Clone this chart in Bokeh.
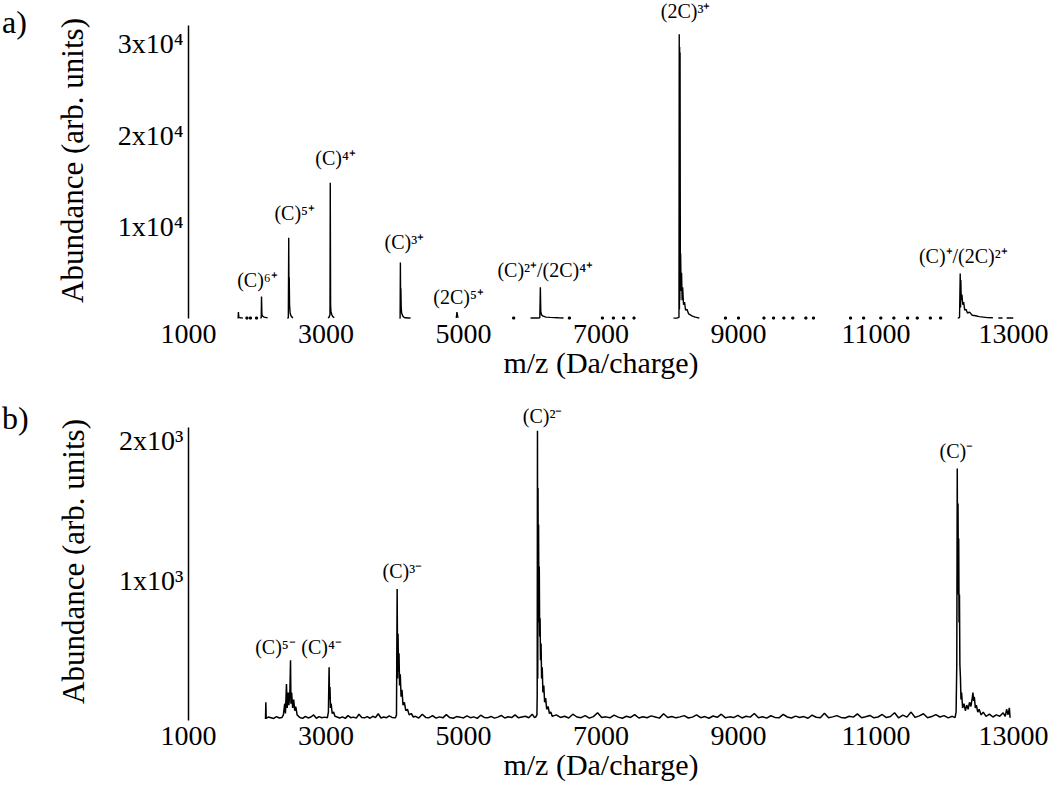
from bokeh.plotting import figure
from bokeh.layouts import column, row
from bokeh.models import Range1d, FixedTicker, Div
from bokeh.core.properties import value
from bokeh.embed import file_html
from bokeh.resources import INLINE

nan = float("nan")
FONT = "Liberation Serif"

# ---------------- data: panel a) ----------------
x_ticks = [1000, 3000, 5000, 7000, 9000, 11000, 13000]

a_mz = [
    1722, 1726, 1732, 1760, 1790, nan,
    2045, 2058, 2062, 2068, 2080, 2100, 2130, 2150, nan,
    2440, 2452, 2458, 2462, 2465, 2470, 2478, 2490, 2505, 2520, nan,
    3030, 3045, 3058, 3062, 3067, 3072, 3085, 3100, 3120, nan,
    4070, 4078, 4082, 4086, 4089, 4094, 4100, 4115, 4130, 4150, 4200, 4230, nan,
    4895, 4905, 4915, 4925, nan,
    5975, 6000, 6040, 6080, 6110, 6118, 6124, 6135, 6160, 6200, 6260, 6320, 6380, 6455, nan,
    8055, 8110, 8134, 8138, 8141, 8144, 8147, 8150, 8154, 8158, 8166, 8172, 8180, 8188,
    8200, 8215, 8230, 8250, 8275, 8300, 8330, 8370, 8400, 8430, nan,
    12190, 12215, 12225, 12230, 12234, 12240, 12250, 12262, 12275, 12290, 12310, 12330,
    12360, 12400, 12450, 12500, 12560, 12620, 12700, nan,
    12780, 12840, nan, 12900, 13000,
]
a_counts = [
    0, 700, 120, 80, 60, nan,
    60, 80, 2400, 400, 250, 150, 100, 80, nan,
    0, 100, 8800, 1200, 4500, 1500, 600, 300, 150, 60, nan,
    50, 150, 400, 14800, 1400, 800, 400, 200, 80, nan,
    0, 50, 6100, 1000, 3300, 1200, 600, 300, 150, 80, 60, 50, nan,
    50, 700, 200, 100, nan,
    60, 50, 60, 60, 80, 3400, 800, 400, 250, 150, 120, 100, 80, 60, nan,
    40, 60, 120, 31000, 1000, 29600, 2000, 29000, 6000, 7100, 3000, 5000, 2000, 3400,
    1500, 1800, 900, 1000, 500, 400, 250, 150, 100, 50, nan,
    60, 100, 4900, 1200, 4200, 2000, 2600, 1500, 1800, 900, 1000, 600,
    700, 350, 300, 200, 150, 100, 80, nan,
    60, 60, nan, 60, 60,
]
a_dot_mz = [1850, 1900, 1990, 5730, 6540, 7020, 7180, 7330, 7480, 8810, 9000, 9370,
            9510, 9660, 9790, 9980, 10090, 10630, 10820, 11070, 11260, 11460, 11600,
            11790, 11940]
a_dot_counts = [50] * len(a_dot_mz)

a_label_text = ["(C)⁶⁺", "(C)⁵⁺", "(C)⁴⁺", "(C)³⁺", "(2C)⁵⁺", "(C)²⁺/(2C)⁴⁺",
                "(2C)³⁺", "(C)⁺/(2C)²⁺"]
a_label_mz = [2004, 2545, 3140, 4140, 4930, 6190, 8230, 12270]
a_label_counts = [3000, 10300, 16300, 7100, 1100, 4100, 32300, 5600]

a_yticks = [10000, 20000, 30000]
a_ytick_text = ["1x10⁴", "2x10⁴", "3x10⁴"]

# ---------------- data: panel b) ----------------
b_mz = [
    2120, 2125, 2130, 2160, 2200, 2240, 2280, 2320, 2360,
    2380, 2400, 2410, 2425, 2435, 2450, 2460, 2475, 2484, 2490, 2500, 2515, 2530, 2545,
    2560, 2580, 2600,
    2620, 2660, 2700, 2740, 2780, 2820, 2860, 2900, 2940, 2980,
    3020, 3035, 3045, 3052, 3058, 3065, 3075, 3090, 3110, 3130, 3160,
    3200, 3240, 3280, 3320, 3360, 3400, 3440, 3480, 3520, 3560,
    3600, 3640, 3680, 3720, 3760, 3800, 3840, 3880, 3920, 3960,
    4010, 4025, 4035, 4042, 4048, 4055, 4062, 4070, 4080, 4092, 4105, 4120, 4140, 4160,
    4185, 4210, 4240, 4270,
    4300, 4350, 4400, 4450, 4500, 4550, 4600, 4650, 4700, 4750,
    4800, 4850, 4900, 4950, 5000, 5050, 5100, 5150, 5200, 5250,
    5300, 5350, 5400, 5450, 5500, 5550, 5600, 5650, 5700, 5750,
    5800, 5850, 5900, 5950, 6000, 6030,
    6050, 6068, 6072, 6076, 6080, 6084, 6088, 6092, 6097, 6102, 6108, 6114, 6120, 6128,
    6136, 6145, 6155, 6168, 6180, 6195, 6210, 6230, 6250, 6270, 6290, 6320,
    6350, 6410, 6470, 6530, 6590, 6650, 6710, 6770, 6830, 6890,
    6950, 7010, 7070, 7130, 7190, 7250, 7310, 7370, 7430, 7490,
    7550, 7610, 7670, 7730, 7790, 7850, 7910, 7970, 8030, 8090,
    8150, 8210, 8270, 8330, 8390, 8450, 8510, 8570, 8630, 8690,
    8750, 8810, 8870, 8930, 8990, 9050, 9110, 9170, 9230, 9290,
    9350, 9410, 9470, 9530, 9590, 9650, 9710, 9770, 9830, 9890,
    9950, 10010, 10070, 10130, 10190, 10250, 10310, 10370, 10430, 10490,
    10550, 10610, 10670, 10730, 10790, 10850, 10910, 10970, 11030, 11090,
    11150, 11210, 11270, 11330, 11390, 11450, 11510, 11570, 11630, 11690,
    11750, 11810, 11870, 11930, 11990, 12050, 12110,
    12150, 12165, 12175, 12182, 12188, 12193, 12198, 12203, 12208, 12214,
    12220, 12228, 12236, 12245, 12260, 12280, 12300, 12320, 12340, 12360,
    12380, 12400, 12410, 12420, 12430, 12445, 12460, 12480, 12500, 12530,
    12560, 12600, 12650, 12700, 12750, 12800, 12850, 12880, 12900, 12920,
    12940, 12950,
]
b_counts = [
    10, 130, 15, 25, 20, 15, 28, 18, 22,
    40, 120, 50, 260, 90, 200, 110, 210, 430, 120, 200, 90, 150, 70,
    100, 40, 30,
    22, 15, 30, 18, 25, 40, 16, 28, 20, 24,
    20, 60, 380, 150, 240, 90, 120, 50, 60, 30, 25,
    18, 26, 15, 35, 20, 24, 17, 45, 22, 19,
    28, 16, 30, 21, 48, 18, 25, 20, 33, 22,
    20, 40, 940, 300, 620, 350, 480, 250, 330, 170, 220, 110, 130, 70,
    80, 40, 50, 25,
    30, 18, 45, 22, 20, 35, 17, 26, 19, 42,
    21, 16, 28, 24, 18, 33, 20, 26, 15, 38,
    22, 19, 29, 17, 24, 36, 18, 27, 21, 40,
    19, 25, 30, 20, 45, 22,
    25, 40, 180, 2070, 300, 1660, 700, 1400, 730, 1100, 600, 730, 430, 550,
    300, 380, 200, 250, 130, 160, 80, 100, 50, 60, 30, 35,
    40, 22, 30, 18, 45, 25, 20, 35, 17, 28,
    55, 21, 26, 19, 38, 24, 16, 30, 22, 42,
    18, 27, 20, 33, 25, 17, 48, 21, 29, 19,
    26, 35, 18, 24, 40, 20, 28, 16, 32, 23,
    45, 19, 26, 21, 37, 18, 30, 24, 50, 20,
    27, 17, 34, 22, 19, 44, 25, 18, 31, 21,
    28, 16, 39, 23, 20, 52, 19, 26, 35, 22,
    18, 30, 24, 47, 20, 27, 36, 19, 25, 43,
    21, 29, 55, 18, 38, 24, 60, 22, 33, 48,
    20, 28, 42, 25, 35, 19, 30,
    20, 60, 400, 1800, 900, 1550, 1000, 1300, 700, 900,
    400, 310, 150, 200, 90, 120, 70, 110, 80, 130,
    100, 160, 200, 140, 170, 90, 110, 60, 80, 40,
    60, 30, 45, 25, 40, 30, 55, 30, 80, 40,
    90, 20,
]

b_label_text = ["(C)⁵⁻", "(C)⁴⁻", "(C)³⁻", "(C)²⁻", "(C)⁻"]
b_label_mz = [2265, 2935, 4110, 6150, 12170]
b_label_counts = [450, 450, 990, 2100, 1850]

b_yticks = [1000, 2000]
b_ytick_text = ["1x10³", "2x10³"]

assert len(a_mz) == len(a_counts)
assert len(b_mz) == len(b_counts)

# ---------------- layout constants ----------------
DIV_W = 30
W = 1020
LEFT = 158
RIGHT = 37


def style(p, yticks, ytick_text, ybound):
    p.xgrid.visible = False
    p.ygrid.visible = False
    p.outline_line_color = None
    p.background_fill_color = "white"
    p.border_fill_color = "white"

    xa = p.xaxis[0]
    xa.ticker = FixedTicker(ticks=x_ticks)
    xa.axis_line_color = None
    xa.major_tick_line_color = None
    xa.minor_tick_line_color = None
    xa.major_tick_in = 0
    xa.major_tick_out = 0
    xa.major_label_standoff = 4
    xa.major_label_text_font = FONT
    xa.major_label_text_font_size = "28px"
    xa.major_label_text_color = "black"
    xa.axis_label = "m/z (Da/charge)"
    xa.axis_label_text_font = FONT
    xa.axis_label_text_font_size = "30px"
    xa.axis_label_text_font_style = "normal"
    xa.axis_label_text_color = "black"
    xa.axis_label_standoff = 0

    ya = p.yaxis[0]
    ya.ticker = FixedTicker(ticks=yticks)
    ya.major_label_overrides = {t: s for t, s in zip(yticks, ytick_text)}
    ya.bounds = (0, ybound)
    ya.axis_line_color = "black"
    ya.axis_line_width = 1.5
    ya.major_tick_line_color = None
    ya.minor_tick_line_color = None
    ya.major_tick_in = 0
    ya.major_tick_out = 0
    ya.major_label_standoff = 5
    ya.major_label_text_font = FONT
    ya.major_label_text_font_size = "28px"
    ya.major_label_text_color = "black"
    ya.axis_label = "Abundance (arb. units)"
    ya.axis_label_text_font = FONT
    ya.axis_label_text_font_size = "31px"
    ya.axis_label_text_font_style = "normal"
    ya.axis_label_text_color = "black"
    ya.axis_label_standoff = 25


def letter(text, pad_top, height):
    return Div(text=text, width=DIV_W, height=height, margin=0,
               styles={"font-family": FONT, "font-size": "32px", "line-height": "1",
                       "color": "black", "padding-top": f"{pad_top}px",
                       "padding-left": "2px"})


# ---------------- panel a ----------------
A_FRAME_H = 320
A_B = 70
a_px = 91.7 / 10000.0
a_y0 = -2 / a_px
a_y1 = (A_FRAME_H - 2) / a_px
p1 = figure(width=W, height=A_FRAME_H + A_B, output_backend="svg", toolbar_location=None,
            x_range=Range1d(x_ticks[0], x_ticks[-1]), y_range=Range1d(a_y0, a_y1),
            min_border_left=LEFT, min_border_right=RIGHT, min_border_top=0,
            min_border_bottom=A_B)
style(p1, a_yticks, a_ytick_text, 32000)
p1.line(a_mz, a_counts, line_color="black", line_width=1.4)
p1.scatter(a_dot_mz, a_dot_counts, marker="square", size=2, color="black")
p1.text(x=a_label_mz, y=a_label_counts, text=a_label_text, text_align="center",
        text_baseline="bottom", text_font=value(FONT), text_font_size=value("20px"),
        text_color="black")

# ---------------- panel b ----------------
B_TOP = 10
B_FRAME_H = 322
B_B = 70
b_px = 140 / 1000.0
b_y0 = -2 / b_px
b_y1 = (B_FRAME_H - 2) / b_px
p2 = figure(width=W, height=B_TOP + B_FRAME_H + B_B, output_backend="svg",
            toolbar_location=None,
            x_range=Range1d(x_ticks[0], x_ticks[-1]), y_range=Range1d(b_y0, b_y1),
            min_border_left=LEFT, min_border_right=RIGHT, min_border_top=B_TOP,
            min_border_bottom=B_B)
style(p2, b_yticks, b_ytick_text, 2090)
p2.line(b_mz, b_counts, line_color="black", line_width=1.5)
p2.text(x=b_label_mz, y=b_label_counts, text=b_label_text, text_align="center",
        text_baseline="bottom", text_font=value(FONT), text_font_size=value("20px"),
        text_color="black")

layout = column(row(letter("a)", 6, 50), p1), row(letter("b)", 12, 50), p2))
open("out.html", "w").write(file_html(layout, INLINE))
